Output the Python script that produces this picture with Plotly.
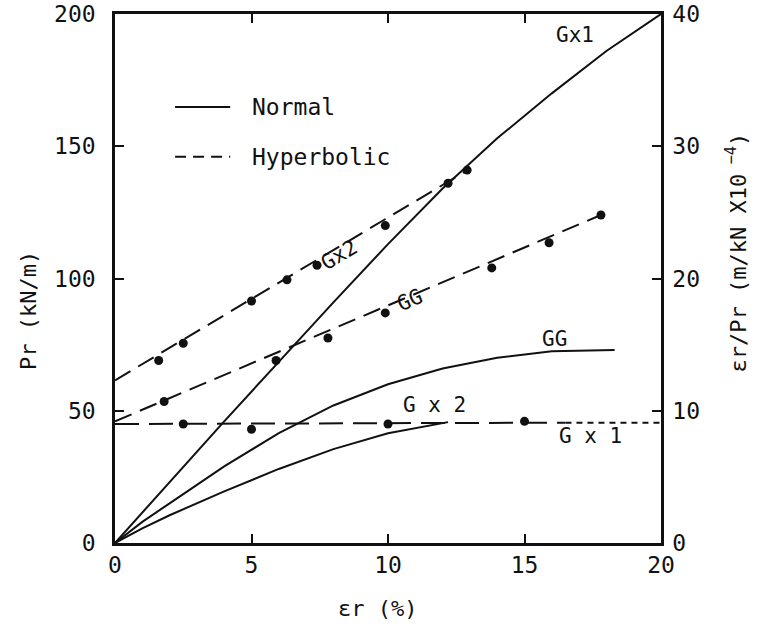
import plotly.graph_objects as go

# ---- data ----
# Normal curves: Pr (kN/m) vs strain (%) -> left axis
gx1_norm_x = [0, 2, 4, 6, 8, 10, 12, 14, 16, 18, 20]
gx1_norm_y = [0, 23, 46, 68.5, 91, 113, 134, 153, 170, 186, 200]
gg_norm_x = [0, 1, 2, 4, 6, 8, 10, 12, 14, 16, 18.3]
gg_norm_y = [0, 8, 15, 29, 41.5, 52, 60, 66, 70, 72.5, 73]
gx2_norm_x = [0, 1, 2, 4, 6, 8, 10, 12.2]
gx2_norm_y = [0, 5.5, 10.5, 19.5, 28, 35.5, 41.5, 45.7]

# Hyperbolic: strain/Pr (m/kN x10^-4) -> right axis
gx2_hyp_px = [1.6, 2.5, 5.0, 6.3, 7.4, 9.9, 12.2, 12.9]
gx2_hyp_py = [13.8, 15.1, 18.3, 19.9, 21.0, 24.0, 27.2, 28.2]
gx2_hyp_lx = [0, 13]
gx2_hyp_ly = [12.3, 28.3]

gg_hyp_px = [1.8, 5.9, 7.8, 9.9, 13.8, 15.9, 17.8]
gg_hyp_py = [10.7, 13.8, 15.5, 17.4, 20.8, 22.7, 24.8]
gg_hyp_lx = [0, 17.8]
gg_hyp_ly = [9.2, 24.8]

gx1_hyp_px = [2.5, 5.0, 10.0, 15.0]
gx1_hyp_py = [9.0, 8.6, 9.0, 9.2]
gx1_hyp_lx = [0, 16.5]
gx1_hyp_ly = [9.0, 9.1]
gx1_hyp_tail_x = [16.5, 20]
gx1_hyp_tail_y = [9.1, 9.1]

x_ticks = [0, 5, 10, 15, 20]
y_ticks = [0, 50, 100, 150, 200]
y2_ticks = [0, 10, 20, 30, 40]

FONT = "DejaVu Sans Mono"
BLACK = "#111111"
HYP_DASH = "18px,9px"

fig = go.Figure()

def line(x, y, yaxis="y", dash="solid"):
    fig.add_trace(go.Scatter(x=x, y=y, mode="lines", yaxis=yaxis,
                             line=dict(color=BLACK, width=2, dash=dash),
                             showlegend=False, hoverinfo="skip"))

def pts(x, y):
    fig.add_trace(go.Scatter(x=x, y=y, mode="markers", yaxis="y2",
                             marker=dict(color=BLACK, size=9, symbol="circle"),
                             showlegend=False, hoverinfo="skip"))

line(gx1_norm_x, gx1_norm_y)
line(gg_norm_x, gg_norm_y)
line(gx2_norm_x, gx2_norm_y)

line(gx2_hyp_lx, gx2_hyp_ly, "y2", HYP_DASH)
line(gg_hyp_lx, gg_hyp_ly, "y2", HYP_DASH)
line(gx1_hyp_lx, gx1_hyp_ly, "y2", "24px,10px")
line(gx1_hyp_tail_x, gx1_hyp_tail_y, "y2", "6px,5px")
pts(gx2_hyp_px, gx2_hyp_py)
pts(gg_hyp_px, gg_hyp_py)
pts(gx1_hyp_px, gx1_hyp_py)

labels = [
    ("Gx1", 16.85, 192, 0),
    ("Gx2", 8.2, 109, -31),
    ("GG", 10.8, 92, -23),
    ("GG", 16.1, 77, 0),
    ("G x 2", 11.7, 52, 0),
    ("G x 1", 17.4, 40.5, 0),
]
for t, x, y, a in labels:
    fig.add_annotation(x=x, y=y, text=t, showarrow=False, textangle=a,
                       xanchor="center", yanchor="middle",
                       font=dict(family=FONT, size=21, color=BLACK))

# legend (drawn manually to match the reference's in-plot key)
legend_items = [("Normal", "solid", 0.824), ("Hyperbolic", "11px,7px", 0.730)]
for name, dash, yy in legend_items:
    fig.add_shape(type="line", xref="paper", yref="paper", x0=0.11, x1=0.211,
                  y0=yy, y1=yy, line=dict(color=BLACK, width=2, dash=dash))
    fig.add_annotation(xref="paper", yref="paper", x=0.248, y=yy, text=name,
                       xanchor="left", yanchor="middle", showarrow=False,
                       font=dict(family=FONT, size=23, color=BLACK))

# axis titles
fig.add_annotation(xref="paper", yref="paper", x=0.48, y=-0.123, text="εr (%)",
                   xanchor="center", yanchor="middle", showarrow=False,
                   font=dict(family=FONT, size=22, color=BLACK))
fig.add_annotation(xref="paper", yref="paper", x=-0.158, y=0.44, text="Pr (kN/m)",
                   textangle=-90, xanchor="center", yanchor="middle", showarrow=False,
                   font=dict(family=FONT, size=22, color=BLACK))
fig.add_annotation(xref="paper", yref="paper", x=1.138, y=0.55,
                   text="εr/Pr (m/kN X10<sup> −4</sup>)",
                   textangle=-90, xanchor="center", yanchor="middle", showarrow=False,
                   font=dict(family=FONT, size=22, color=BLACK))

axis_common = dict(showgrid=False, zeroline=False, showline=True, linecolor=BLACK,
                   linewidth=2.5, ticks="inside", ticklen=9, tickwidth=2,
                   tickcolor=BLACK, automargin=False,
                   tickfont=dict(family=FONT, size=23, color=BLACK))

fig.update_layout(
    width=757, height=630,
    margin=dict(l=115, r=96, t=14, b=87),
    paper_bgcolor="white", plot_bgcolor="white",
    xaxis=dict(range=[0, 20], tickvals=x_ticks, mirror="ticks", **axis_common),
    yaxis=dict(range=[0, 200], tickvals=y_ticks, ticklabelstandoff=12, **axis_common),
    yaxis2=dict(range=[0, 40], tickvals=y2_ticks, overlaying="y",
                side="right", ticklabelstandoff=4, **axis_common),
    showlegend=False,
)

fig.write_html("out.html")
